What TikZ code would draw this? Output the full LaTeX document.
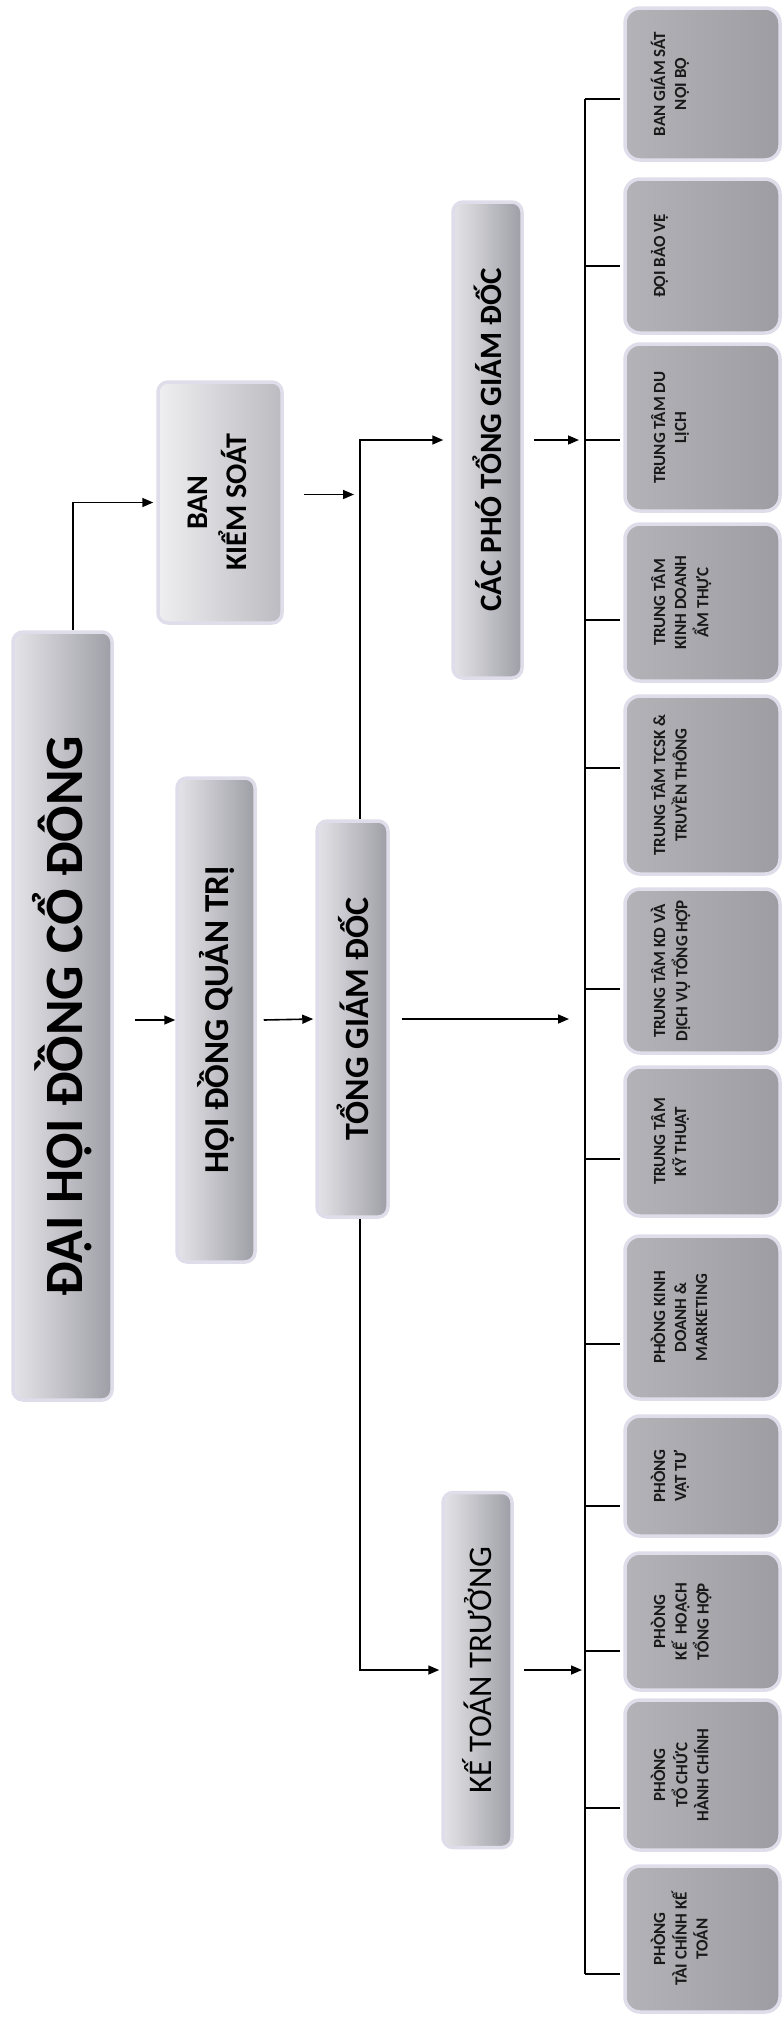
\documentclass[tikz,border=0pt]{standalone}
\usepackage{fontspec}
\setmainfont{Carlito}
\usepackage{graphicx}
\usetikzlibrary{arrows.meta,calc}
\definecolor{lav}{HTML}{E0DDEA}
\definecolor{subgray}{HTML}{A6A5AB}
\definecolor{lt}{HTML}{E4E4E8}
\definecolor{dk}{HTML}{9E9EA6}
\tikzset{
  topbox/.style={draw=lav, line width=3.5pt, rounded corners=10pt, left color=lt, right color=dk, inner sep=0pt},
  subbox/.style={draw=lav, line width=3.5pt, rounded corners=15pt, left color=subgray!85!white, right color=subgray!95!black, inner sep=0pt, minimum width=155pt},
  ln/.style={line width=1.6pt, black},
  arr/.style={ln, -{Triangle[length=11pt,width=9pt]}},
  sublbl/.style={inner sep=0pt, anchor=west, font=\fontsize{17}{21}\selectfont\bfseries, text=black!90},
}
\newcommand{\rot}[1]{\rotatebox{90}{\begin{tabular}{@{}c@{}}#1\end{tabular}}}
\begin{document}
\begin{tikzpicture}[x=1pt,y=-1pt]
\useasboundingbox[fill=white] (0,0) rectangle (783,2019);

% top-level boxes
\node[topbox, minimum width=99pt, minimum height=768pt] (dh) at (62.5,1016)
  {\rotatebox{90}{\fontsize{54}{64}\selectfont\bfseries ĐẠI HỘI ĐỒNG CỔ ĐÔNG}};
\node[topbox, left color=lt!60!white, right color=dk!70!white, minimum width=124pt, minimum height=241pt] (bk) at (220,502.5)
  {\rotatebox{90}{\fontsize{30}{37}\selectfont\bfseries\begin{tabular}{@{}c@{}}BAN\\KIỂM SOÁT\end{tabular}}};
\node[topbox, minimum width=78pt, minimum height=484pt] (hd) at (216,1020)
  {\rotatebox{90}{\fontsize{35}{42}\selectfont\bfseries HỘI ĐỒNG QUẢN TRỊ}};
\node[topbox, minimum width=71pt, minimum height=396pt] (tg) at (352.5,1019)
  {\rotatebox{90}{\fontsize{34}{40}\selectfont\bfseries TỔNG GIÁM ĐỐC}};
\node[topbox, minimum width=69pt, minimum height=476pt] (cp) at (487.5,440)
  {\rotatebox{90}{\fontsize{31}{38}\selectfont\bfseries CÁC PHÓ TỔNG GIÁM ĐỐC}};
\node[topbox, minimum width=69pt, minimum height=355pt] (kt) at (477.5,1670)
  {\rotatebox{90}{\fontsize{33}{40}\selectfont KẾ TOÁN TRƯỞNG}};

% sub boxes (center y, height)
\node[subbox, minimum height=152pt] (b1) at (702.5,84) {};
\node[subbox, minimum height=154pt] (b2) at (702.5,256) {};
\node[subbox, minimum height=167pt] (b3) at (702.5,427.5) {};
\node[subbox, minimum height=157pt] (b4) at (702.5,602.5) {};
\node[subbox, minimum height=178pt] (b5) at (702.5,785) {};
\node[subbox, minimum height=164pt] (b6) at (702.5,971) {};
\node[subbox, minimum height=149pt] (b7) at (702.5,1141.5) {};
\node[subbox, minimum height=163pt] (b8) at (702.5,1317.5) {};
\node[subbox, minimum height=120pt] (b9) at (702.5,1476) {};
\node[subbox, minimum height=137pt] (b10) at (702.5,1621.5) {};
\node[subbox, minimum height=150pt] (b11) at (702.5,1775) {};
\node[subbox, minimum height=146pt] (b12) at (702.5,1939) {};

\node[sublbl] (t1) at ([xshift=27pt]b1.west) {\rot{BAN GIÁM SÁT\\NỘI BỘ}};
\node[sublbl] (t2) at ([xshift=27pt]b2.west) {\rot{ĐỘI BẢO VỆ}};
\node[sublbl] (t3) at ([xshift=27pt]b3.west) {\rot{TRUNG TÂM DU\\LỊCH}};
\node[sublbl] (t4) at ([xshift=27pt]b4.west) {\rot{TRUNG TÂM\\KINH DOANH\\ẨM THỰC}};
\node[sublbl] (t5) at ([xshift=27pt]b5.west) {\rot{TRUNG TÂM TCSK \&\\TRUYỀN THÔNG}};
\node[sublbl] (t6) at ([xshift=27pt]b6.west) {\rot{TRUNG TÂM KD VÀ\\DỊCH VỤ TỔNG HỢP}};
\node[sublbl] (t7) at ([xshift=27pt]b7.west) {\rot{TRUNG TÂM\\KỸ THUẬT}};
\node[sublbl] (t8) at ([xshift=27pt]b8.west) {\rot{PHÒNG KINH\\DOANH \&\\MARKETING}};
\node[sublbl] (t9) at ([xshift=27pt]b9.west) {\rot{PHÒNG\\VẬT TƯ}};
\node[sublbl] (t10) at ([xshift=27pt]b10.west) {\rot{PHÒNG\\KẾ~ HOẠCH\\TỔNG HỢP}};
\node[sublbl] (t11) at ([xshift=27pt]b11.west) {\rot{PHÒNG\\TỔ CHỨC\\HÀNH CHÍNH}};
\node[sublbl] (t12) at ([xshift=27pt]b12.west) {\rot{PHÒNG\\TÀI CHÍNH KẾ\\TOÁN}};

% bus and stubs
\coordinate (busT) at (585,99);
\coordinate (busB) at (585,1974);
\draw[ln] (busT) -- (busB);
\foreach \b/\y in {b1/99,b2/266,b3/440,b4/620,b5/768,b6/989,b7/1159,b8/1344,b9/1506,b10/1651,b11/1808,b12/1974}{
  \coordinate (s) at (0,\y);
  \draw[ln] (busT |- s) -- ([xshift=-3pt]\b.west |- s);
}

% connectors
\coordinate (tgtop) at ([xshift=7.5pt]tg.north);
\coordinate (tgbot) at ([xshift=7.5pt]tg.south);
\draw[arr] ([xshift=10.5pt]dh.north) |- ([xshift=-3pt]bk.west);
\draw[arr] ([xshift=21pt]dh.east |- hd.west) -- (hd.west);
\draw[arr] ([xshift=7pt]hd.east) -- ([xshift=-2pt]tg.west);
\draw[arr] (tgtop) |- ([xshift=-8pt]cp.west);
\draw[arr] (tgbot) |- ([xshift=-2pt]kt.west);
\draw[arr] ([xshift=20pt,yshift=8pt]bk.east) -- ([xshift=-6pt,yshift=8pt]bk.east -| tgtop);
\draw[arr] ([xshift=12pt]tg.east) -- ([xshift=-16pt]tg.east -| busT);
\draw[arr] ([xshift=10pt]cp.east) -- ([xshift=-6pt]cp.east -| busT);
\draw[arr] ([xshift=10pt]kt.east) -- ([xshift=-3pt]kt.east -| busT);
\end{tikzpicture}
\end{document}
